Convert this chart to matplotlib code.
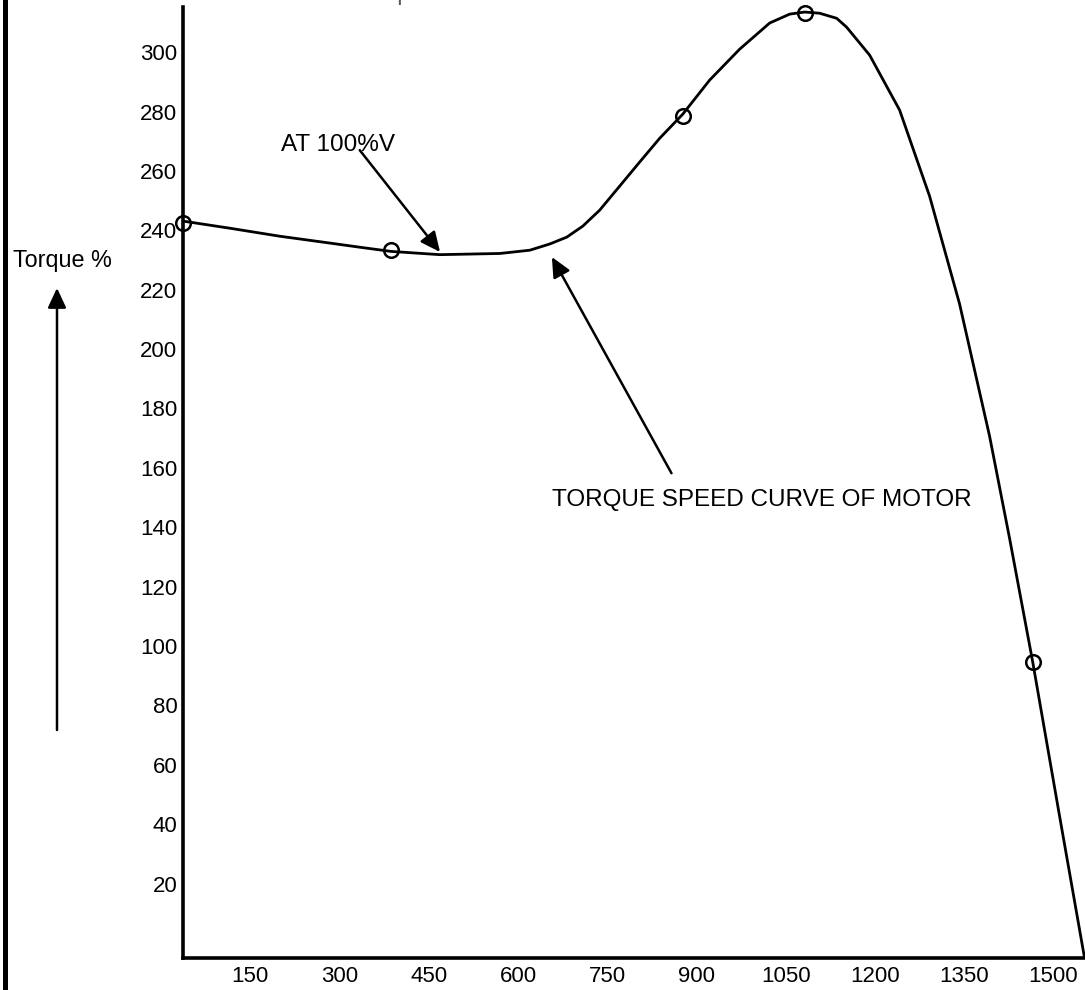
import matplotlib
matplotlib.use("Agg")
import matplotlib.pyplot as plt
from matplotlib.lines import Line2D

plt.rcParams['font.family'] = ['Liberation Sans', 'DejaVu Sans']

# Torque-speed curve (speed rpm, torque %)
speed = [37.0, 115.9, 199.9, 283.9, 334.3, 386.4, 468.7, 569.5, 619.9, 653.5,
         682.0, 708.9, 737.4, 771.0, 804.6, 838.2, 876.9, 922.2, 972.6, 1023.0,
         1056.6, 1081.8, 1107.0, 1135.6, 1152.4, 1191.0, 1241.4, 1291.8,
         1342.2, 1392.6, 1426.2, 1464.8, 1510.2, 1552.2]
torque = [243.1, 240.7, 238.0, 235.7, 234.3, 232.9, 231.8, 232.2, 233.3, 235.4,
          237.7, 241.4, 246.8, 254.9, 263.0, 271.0, 279.1, 290.6, 301.0, 309.8,
          312.8, 313.5, 313.1, 311.4, 308.4, 299.0, 280.5, 251.5,
          215.2, 170.7, 136.3, 95.0, 42.8, -5.0]

# Marked points
mark_speed = [37, 386, 877, 1082, 1465]
mark_torque = [242.5, 233.3, 278.5, 313.1, 94.6]

xticks = [150, 300, 450, 600, 750, 900, 1050, 1200, 1350, 1500]
yticks = [20, 40, 60, 80, 100, 120, 140, 160, 180, 200, 220, 240, 260, 280, 300]

W, H = 1085, 990
fig = plt.figure(figsize=(W / 100, H / 100), dpi=100)
ax = fig.add_axes([183 / W, 1 - 958 / H, (W - 183) / W, (958 - 7) / H])

ax.plot(speed, torque, color='black', lw=2.0, solid_joinstyle='round',
        solid_capstyle='round')
ax.plot(mark_speed, mark_torque, linestyle='none', marker='o', ms=10.5,
        mfc='none', mec='black', mew=1.8, clip_on=False)

ax.set_xlim(37, 1553)
ax.set_ylim(-5.05, 315.2)
ax.set_xticks(xticks)
ax.set_xticklabels([str(v) for v in xticks])
ax.set_yticks(yticks)
ax.set_yticklabels([str(v) for v in yticks])
ax.tick_params(axis='both', length=0, labelsize=16, colors='black')
ax.tick_params(axis='y', pad=4)
ax.tick_params(axis='x', pad=6)
for s in ['top', 'right']:
    ax.spines[s].set_visible(False)
for s in ['left', 'bottom']:
    ax.spines[s].set_linewidth(2.6)
    ax.spines[s].set_color('black')

aprops = dict(arrowstyle='-|>,head_length=0.6,head_width=0.28', color='black',
              lw=1.8, mutation_scale=20, shrinkA=0, shrinkB=0)

ax.text(297, 268.7, 'AT 100%V', fontsize=17.5, ha='center', va='center')
ax.annotate('', xy=(469, 232.7), xytext=(334, 267), arrowprops=aprops)

ax.text(658, 149.2, 'TORQUE SPEED CURVE OF MOTOR', fontsize=17.5,
        ha='left', va='center')
ax.annotate('', xy=(657, 231), xytext=(858, 158.2), arrowprops=aprops)

# Left label and vertical arrow (figure pixel coordinates)
fig.text(13 / W, 1 - 260 / H, 'Torque %', fontsize=16.8, ha='left', va='center')
ax.annotate('', xy=(57, H - 288), xytext=(57, H - 730),
            xycoords='figure pixels', textcoords='figure pixels',
            arrowprops=aprops)

# Caption at the very top, cut off by the edge as in the reference
fig.text(363 / W, 1 + 7 / H, 'Motor torque', fontsize=16.5, ha='center',
         va='center', color='#555555')

# Thick border line at left edge
fig.add_artist(Line2D([4.5 / W, 4.5 / W], [0, 1], transform=fig.transFigure,
                      color='black', lw=3.6))

fig.savefig('out.png', dpi=100)
